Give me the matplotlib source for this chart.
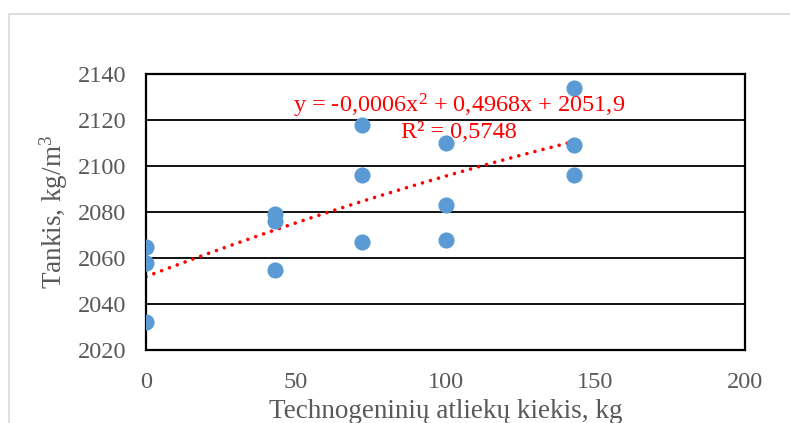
import numpy as np
import matplotlib
matplotlib.use("Agg")
import matplotlib.pyplot as plt
from matplotlib.patches import Rectangle

# data
kiekis = [0, 0, 0, 43, 43, 43, 72, 72, 72, 100, 100, 100, 143, 143, 143]
tankis = [2065, 2058, 2032, 2079, 2076, 2055, 2118, 2096, 2067, 2110, 2083, 2068, 2134, 2109, 2096]
trend_coef = [-0.0006, 0.4968, 2051.9]
r2_text = "R² = 0,5748"

plt.rcParams['font.family'] = ['Liberation Serif', 'DejaVu Serif']
plt.rcParams['mathtext.fontset'] = 'custom'
plt.rcParams['mathtext.rm'] = 'Liberation Serif'
plt.rcParams['mathtext.it'] = 'Liberation Serif'

blue = "#5B9BD5"
grey = "#595959"
red = "#FF0000"

fig = plt.figure(figsize=(7.9, 4.23), dpi=100)
fig.patches.append(Rectangle((9 / 790, -0.1), 1.1, 1 + 0.1 - 14 / 423,
                             transform=fig.transFigure, fill=False,
                             edgecolor="#D9D9D9", linewidth=1.2))

ax = fig.add_axes([146 / 790, 1 - 350 / 423, (745 - 146) / 790, (350 - 74) / 423])
ax.set_xlim(0, 200)
ax.set_ylim(2020, 2140)
ax.set_yticks(np.arange(2020, 2141, 20))
ax.set_xticks([0, 50, 100, 150, 200])
ax.grid(axis="y", color="black", linewidth=1.3)
ax.set_axisbelow(True)
for s in ax.spines.values():
    s.set_color("black")
    s.set_linewidth(1.6)
ax.tick_params(length=0, labelsize=17.5, labelcolor=grey, pad=14)
ax.tick_params(axis="x", pad=16)

xs = np.linspace(0, max(kiekis), 100)
ax.plot(xs, np.polyval(trend_coef, xs), color=red, linestyle=(0, (0.01, 2.3)),
        linewidth=2.6, dash_capstyle="round", zorder=2)
ax.scatter(kiekis, tankis, s=135, color=blue, zorder=3, linewidths=0)

ax.text(104.5, 2123.3, "y = -0,0006x$^{2}$ + 0,4968x + 2051,9", color=red, fontsize=17.5,
        ha="center", va="baseline")
ax.text(104.5, 2112.3, r2_text, color=red, fontsize=17.5, ha="center", va="baseline")

ax.set_ylabel("Tankis, kg/m$^{3}$", fontsize=19.5, color=grey, labelpad=6)
ax.set_xlabel("Technogeninių atliekų kiekis, kg", fontsize=19.5, color=grey, labelpad=4)

fig.savefig("out.png", dpi=100)
